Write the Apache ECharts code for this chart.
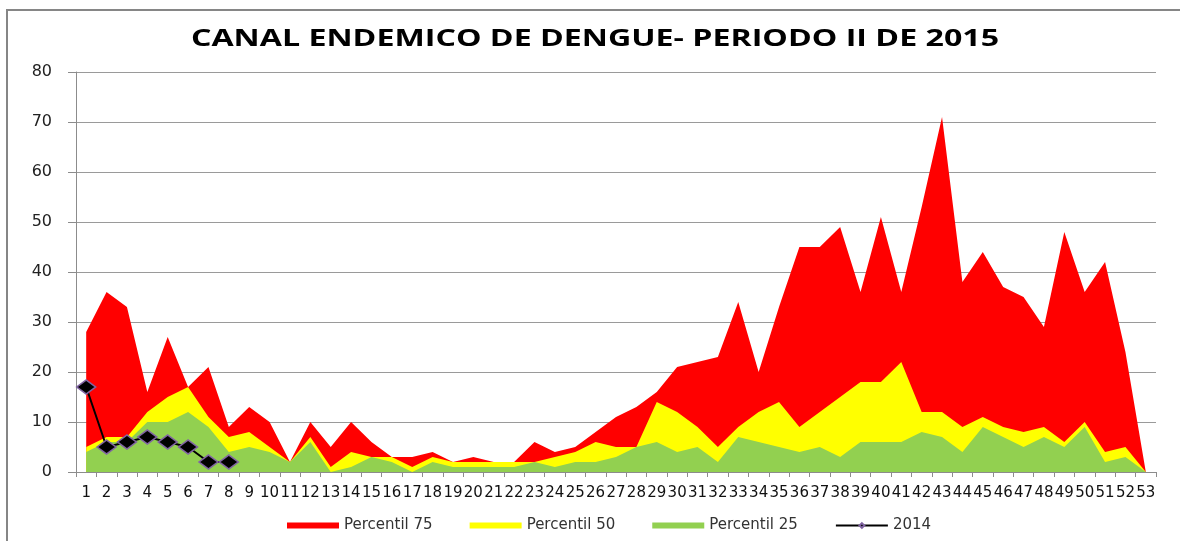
<!DOCTYPE html>
<html>
<head>
<meta charset="utf-8">
<script src="https://cdn.jsdelivr.net/npm/echarts@6/dist/echarts.min.js"></script>
<style>
html, body { margin: 0; padding: 0; background: #fff; }
#chart { width: 1180px; height: 541px; }
</style>
</head>
<body>
<div id="chart"></div>
<script>
var titulo = 'CANAL ENDEMICO DE DENGUE- PERIODO II DE 2015';

var semanas = [];
for (var i = 1; i <= 53; i++) semanas.push(String(i));

var p75 = [28, 36, 33, 16, 27, 17, 21, 9, 13, 10, 2, 10, 5, 10, 6, 3, 3, 4, 2, 3,
    2, 2, 6, 4, 5, 8, 11, 13, 16, 21, 22, 23, 34, 20, 33, 45, 45, 49, 36, 51,
    36, 53, 71, 38, 44, 37, 35, 29, 48, 36, 42, 24, 0];
var p50 = [5, 7, 7, 12, 15, 17, 11, 7, 8, 5, 2, 7, 1, 4, 3, 3, 1, 3, 2, 2,
    2, 2, 2, 3, 4, 6, 5, 5, 14, 12, 9, 5, 9, 12, 14, 9, 12, 15, 18, 18,
    22, 12, 12, 9, 11, 9, 8, 9, 6, 10, 4, 5, 0];
var p25 = [4, 6, 6, 10, 10, 12, 9, 4, 5, 4, 2, 6, 0, 1, 3, 2, 0, 2, 1, 1,
    1, 1, 2, 1, 2, 2, 3, 5, 6, 4, 5, 2, 7, 6, 5, 4, 5, 3, 6, 6,
    6, 8, 7, 4, 9, 7, 5, 7, 5, 9, 2, 3, 0];
var y2014 = [17, 5, 6, 7, 6, 5, 2, 2];

var dom = document.getElementById('chart');
var myChart = echarts.init(dom);

function area(name, data, color) {
    return {
        name: name,
        type: 'line',
        data: data,
        showSymbol: false,
        symbol: 'none',
        lineStyle: { width: 0, color: color },
        itemStyle: { color: color },
        areaStyle: { color: color, opacity: 1 },
        silent: true
    };
}

var option = {
    animation: false,
    backgroundColor: '#fff',
    graphic: [
        {
            type: 'rect',
            shape: { x: 7, y: 10, width: 1200, height: 600 },
            style: { fill: 'none', stroke: '#868686', lineWidth: 2 },
            silent: true
        },
        {
            // el titulo del original esta estirado a lo ancho
            type: 'text',
            x: 595,
            y: 39,
            scaleX: 1.34,
            style: {
                text: titulo,
                align: 'center',
                verticalAlign: 'middle',
                fontFamily: 'Open Sans',
                fontWeight: 'bold',
                fontSize: 24,
                fill: '#000'
            }
        }
    ],
    legend: {
        left: 282,
        top: 513,
        itemWidth: 52,
        itemHeight: 6,
        itemGap: 37,
        textStyle: {
            fontFamily: 'DejaVu Sans',
            fontSize: 15,
            color: '#333'
        },
        data: [
            { name: 'Percentil 75', icon: 'rect' },
            { name: 'Percentil 50', icon: 'rect' },
            { name: 'Percentil 25', icon: 'rect' },
            { name: '2014' }
        ]
    },
    grid: {
        left: 76,
        right: 24,
        top: 72,
        bottom: 69
    },
    xAxis: {
        type: 'category',
        data: semanas,
        boundaryGap: true,
        axisLine: { lineStyle: { color: '#8c8c8c', width: 1 } },
        axisTick: { show: true, length: 5, interval: 0, lineStyle: { color: '#8c8c8c' } },
        axisLabel: {
            interval: 0,
            margin: 14,
            fontFamily: 'DejaVu Sans',
            fontSize: 15,
            color: '#111'
        },
        splitLine: { show: false }
    },
    yAxis: {
        type: 'value',
        min: 0,
        max: 80,
        interval: 10,
        axisLine: { show: true, lineStyle: { color: '#8c8c8c', width: 1 } },
        axisTick: { show: true, length: 8, lineStyle: { color: '#8c8c8c' } },
        axisLabel: {
            margin: 24,
            fontFamily: 'DejaVu Sans',
            fontSize: 16,
            color: '#222'
        },
        splitLine: { lineStyle: { color: '#9a9a9a', width: 1 } }
    },
    series: [
        area('Percentil 75', p75, '#ff0000'),
        area('Percentil 50', p50, '#ffff00'),
        area('Percentil 25', p25, '#92d050'),
        {
            name: '2014',
            type: 'line',
            data: y2014,
            symbol: 'diamond',
            symbolSize: [19, 14],
            lineStyle: { color: '#000', width: 2 },
            itemStyle: { color: '#000', borderColor: '#8064a2', borderWidth: 1.5 },
            z: 5
        }
    ]
};

if (option && typeof option === 'object') {
    myChart.setOption(option, true);
}
</script>
</body>
</html>
